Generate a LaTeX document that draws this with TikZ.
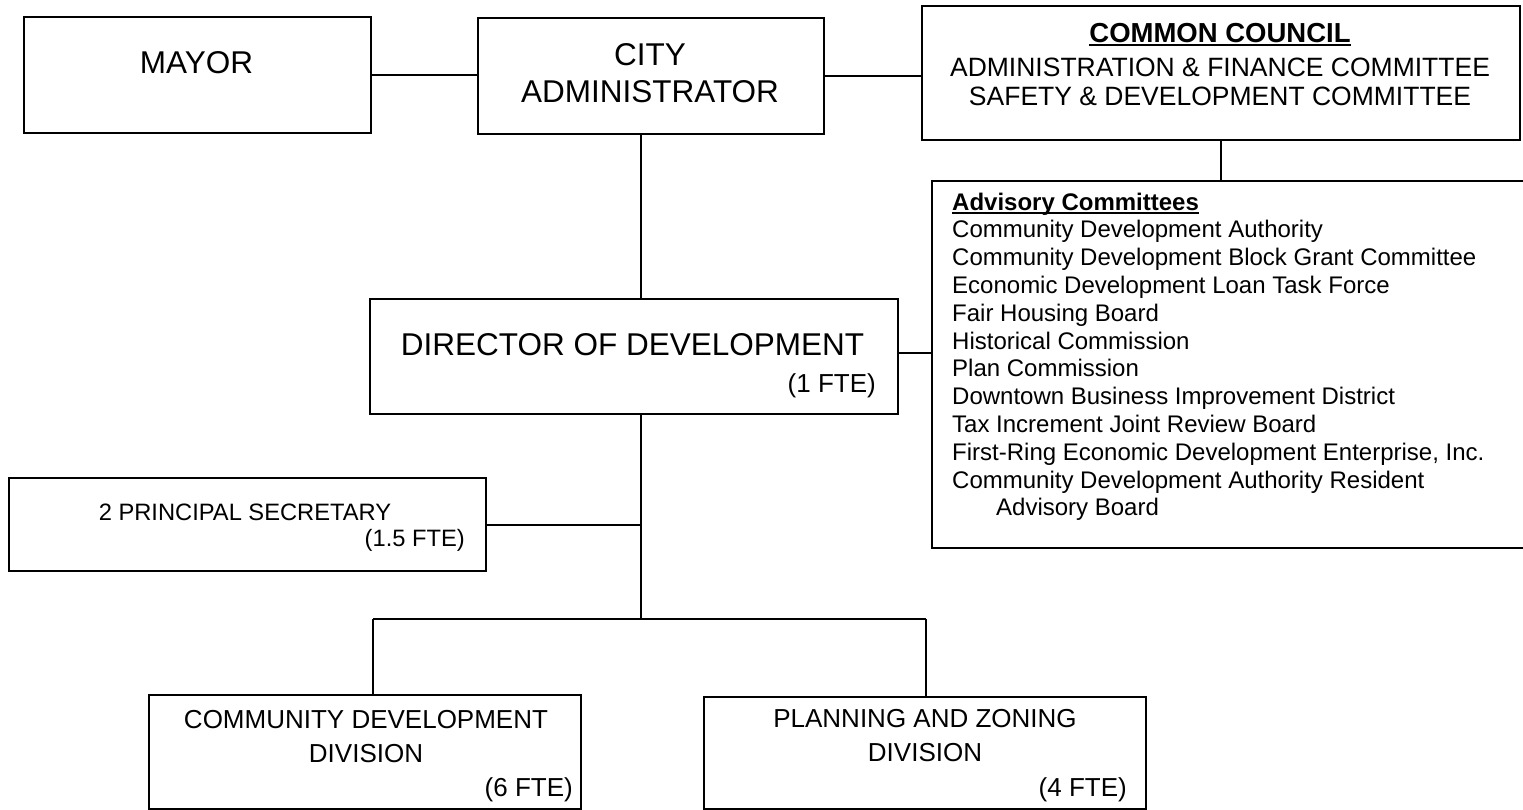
\documentclass[tikz,border=0pt]{standalone}
\usepackage{fontspec}
\setmainfont{Liberation Sans}
\newcommand\myul[1]{\setbox0\hbox{#1}\rlap{\rule[-3.5pt]{\wd0}{2pt}}\box0}
\begin{document}
\begin{tikzpicture}[x=1pt,y=-1pt,
  box/.style={draw, line width=2pt, inner sep=0pt, anchor=north west},
  conn/.style={line width=2pt},
  big/.style={font=\fontsize{31.5}{36}\selectfont, inner sep=0pt},
  mid/.style={font=\fontsize{26.5}{30}\selectfont, inner sep=0pt},
  fte/.style={font=\fontsize{26}{30}\selectfont, inner sep=0pt},
  small/.style={font=\fontsize{23.7}{27}\selectfont, inner sep=0pt},
  adv/.style={font=\fontsize{24}{27.5}\selectfont, inner sep=0pt, anchor=base west}
]
\useasboundingbox[fill=white] (0,0) rectangle (1523,809);

% boxes
\node[box, minimum width=347, minimum height=116] (mayor) at (23,16) {};
\node[box, minimum width=346, minimum height=116] (admin) at (477,17) {};
\node[box, minimum width=598, minimum height=134] (council) at (921,5) {};
\node[box, minimum width=596, minimum height=367] (adv) at (931,180) {};
\node[box, minimum width=528, minimum height=115] (director) at (369,298) {};
\node[box, minimum width=477, minimum height=93] (sec) at (8,477) {};
\node[box, minimum width=432, minimum height=114] (cd) at (148,694) {};
\node[box, minimum width=442, minimum height=112] (pz) at (703,696) {};

% texts
\node[big, anchor=base] (tmayor) at (196.5,73) {MAYOR};
\node[big, anchor=base] (tcity) at (650,65) {CITY};
\node[big, anchor=base] (tadm) at (650,102) {ADMINISTRATOR};
\node[font=\fontsize{27.5}{30}\selectfont\bfseries, inner sep=0pt, anchor=base] (tcc) at (1220,42) {\myul{COMMON COUNCIL}};
\node[mid, anchor=base] (taf) at (1220,76) {ADMINISTRATION \& FINANCE COMMITTEE};
\node[mid, anchor=base] (tsd) at (1220,105) {SAFETY \& DEVELOPMENT COMMITTEE};

\node[adv, font=\fontsize{24}{27.5}\selectfont\bfseries] (ah) at (952,210) {\myul{Advisory Committees}};
\foreach \t [count=\i] in {Community Development Authority,
  Community Development Block Grant Committee,
  Economic Development Loan Task Force,
  Fair Housing Board,
  Historical Commission,
  Plan Commission,
  Downtown Business Improvement District,
  Tax Increment Joint Review Board,
  {First-Ring Economic Development Enterprise, Inc.},
  Community Development Authority Resident}
  \node[adv] (a\i) at (952,{210+27.8*\i}) {\t};
\node[adv] (a11) at (996,{210+27.8*11}) {Advisory Board};

\node[big, anchor=base] (tdir) at (632.5,355) {DIRECTOR OF DEVELOPMENT};
\node[fte, anchor=base east] (tdirf) at (876,392) {(1 FTE)};

\node[small, anchor=base] (tsec) at (245,520) {2 PRINCIPAL SECRETARY};
\node[small, anchor=base east] (tsecf) at (465,546) {(1.5 FTE)};

\node[fte, anchor=base] (tcd1) at (366,728) {COMMUNITY DEVELOPMENT};
\node[fte, anchor=base] (tcd2) at (366,762) {DIVISION};
\node[fte, anchor=base east] (tcdf) at (573,796) {(6 FTE)};

\node[fte, anchor=base] (tpz1) at (925,727) {PLANNING AND ZONING};
\node[fte, anchor=base] (tpz2) at (925,761) {DIVISION};
\node[fte, anchor=base east] (tpzf) at (1127,796) {(4 FTE)};

% connectors
\coordinate (t) at (641,0);
\coordinate (bl) at (373,619);
\coordinate (bm) at (641,619);
\coordinate (brr) at (926,619);
\draw[conn] (mayor.east) -- (mayor.east -| admin.west);
\draw[conn] (admin.east) -- (admin.east -| council.west);
\draw[conn] (admin.south -| t) -- (director.north -| t);
\draw[conn] (council.south) -- (council.south |- adv.north);
\draw[conn] ([yshift=3.5pt]director.east) -- ([yshift=3.5pt]director.east -| adv.west);
\draw[conn] (sec.east) -- (sec.east -| t);
\draw[conn] (director.south -| t) -- (bm);
\draw[conn] (bl) -- (brr);
\draw[conn] (bl) -- (bl |- cd.north);
\draw[conn] (brr) -- (brr |- pz.north);
\end{tikzpicture}
\end{document}
